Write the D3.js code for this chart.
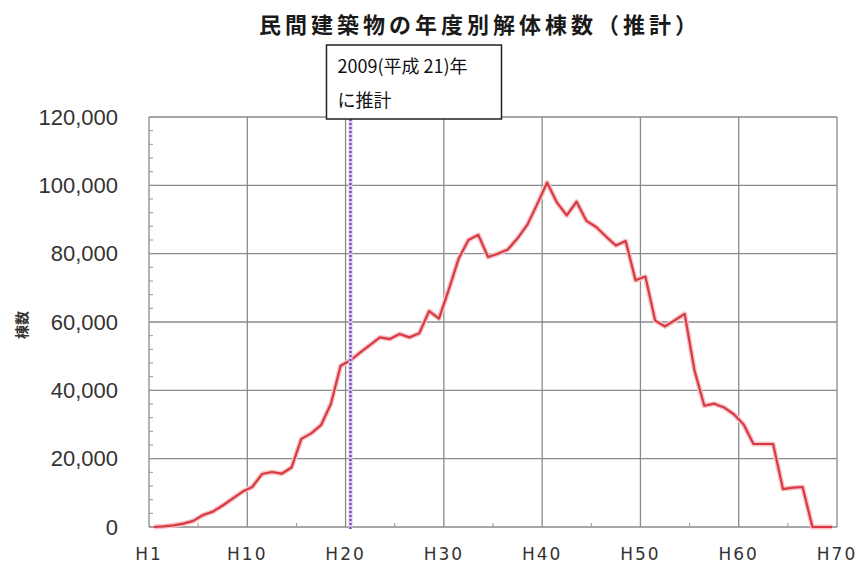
<!DOCTYPE html>
<html>
<head>
<meta charset="utf-8">
<script src="https://cdn.jsdelivr.net/npm/d3@7"></script>
<style>
	body { margin: 0; background: #fff; }
	svg { display: block; }
</style>
</head>
<body>
<svg class="chart"></svg>
<script>
//categories H1..H70 (fiscal years, Heisei)
const categories = d3.range(1, 71).map(function (n) {
	return 'H' + n
})

//estimated demolitions per year
const demolitions = [
	0, 200, 500, 1000, 1800, 3500, 4500, 6300, 8300, 10300,
	11700, 15500, 16100, 15600, 17400, 25800, 27400, 29800, 36000, 47200,
	48800, 51100, 53300, 55500, 55000, 56500, 55500, 56700, 63200, 61000,
	69500, 78500, 84000, 85500, 79000, 80000, 81200, 84500, 88500, 94500,
	100800, 95000, 91200, 95200, 89600, 87800, 85000, 82400, 83700, 72200,
	73300, 60400, 58700, 60500, 62400, 45800, 35500, 36100, 35000, 33000,
	30000, 24300, 24300, 24300, 11100, 11500, 11700, 0, 0, 0
]

const yTicks = [0, 20000, 40000, 60000, 80000, 100000, 120000]
const xTickLabels = ['H1', 'H10', 'H20', 'H30', 'H40', 'H50', 'H60', 'H70']
const markYear = 'H21' //2009
const noteLines = ['2009(平成 21)年', 'に推計']

const svgWidth = 861,
	svgHeight = 572
const margin = { top: 117, right: 24, bottom: 45, left: 149 }

const svg = d3.select('.chart').attr('width', svgWidth).attr('height', svgHeight)

const x = d3
	.scaleBand()
	.domain(categories)
	.range([margin.left, svgWidth - margin.right])
const bw = x.bandwidth()

const y = d3
	.scaleLinear()
	.domain([0, 120000])
	.range([svgHeight - margin.bottom, margin.top])

const plotLeft = margin.left,
	plotRight = svgWidth - margin.right,
	plotTop = margin.top,
	plotBottom = svgHeight - margin.bottom

//gridline positions: every 10 categories plus the right end
const gridX = xTickLabels.map(function (d, i) {
	return i * 10 < categories.length ? x(categories[i * 10]) : plotRight
})

//horizontal grid
svg
	.append('g')
	.selectAll('line')
	.data(yTicks)
	.enter()
	.append('line')
	.attr('x1', plotLeft)
	.attr('x2', plotRight)
	.attr('y1', function (d) { return y(d) })
	.attr('y2', function (d) { return y(d) })
	.attr('stroke', '#8a8a8a')
	.attr('stroke-width', 1.3)

//vertical grid
svg
	.append('g')
	.selectAll('line')
	.data(gridX)
	.enter()
	.append('line')
	.attr('x1', function (d) { return d })
	.attr('x2', function (d) { return d })
	.attr('y1', plotTop)
	.attr('y2', plotBottom)
	.attr('stroke', '#8a8a8a')
	.attr('stroke-width', 1.3)

//minor ticks on the left axis (every 4,000)
svg
	.append('g')
	.selectAll('line')
	.data(d3.range(0, 120001, 4000))
	.enter()
	.append('line')
	.attr('x1', plotLeft)
	.attr('x2', plotLeft + 4)
	.attr('y1', function (d) { return y(d) })
	.attr('y2', function (d) { return y(d) })
	.attr('stroke', '#999')
	.attr('stroke-width', 1)

//minor ticks on the bottom axis (every 5 categories)
svg
	.append('g')
	.selectAll('line')
	.data(d3.range(5, 70, 10))
	.enter()
	.append('line')
	.attr('x1', function (d) { return x(categories[d]) })
	.attr('x2', function (d) { return x(categories[d]) })
	.attr('y1', plotBottom)
	.attr('y2', plotBottom - 4)
	.attr('stroke', '#999')
	.attr('stroke-width', 1)

//y axis labels
const yAxis = d3
	.axisLeft(y)
	.tickValues(yTicks)
	.tickFormat(d3.format(','))
	.tickSize(0)
	.tickPadding(31)
const gy = svg.append('g').attr('transform', 'translate(' + plotLeft + ',0)').call(yAxis)
gy.select('.domain').remove()
gy.selectAll('text')
	.attr('fill', '#333')
	.style('font-family', '"Liberation Sans", Arial, sans-serif')
	.style('font-size', '22px')

//x axis labels
svg
	.append('g')
	.selectAll('text')
	.data(xTickLabels)
	.enter()
	.append('text')
	.attr('x', function (d, i) { return gridX[i] })
	.attr('y', plotBottom + 33)
	.attr('text-anchor', 'middle')
	.attr('fill', '#333')
	.style('font-family', '"DejaVu Sans", sans-serif')
	.style('font-size', '17px')
	.style('letter-spacing', '2px')
	.text(function (d) { return d })

//y title
svg
	.append('text')
	.attr('transform', 'translate(27,' + ((plotTop + plotBottom) / 2 + 3) + ') rotate(-90)')
	.attr('text-anchor', 'middle')
	.attr('fill', '#333')
	.style('font-family', '"Noto Sans CJK JP", sans-serif')
	.style('font-size', '14px')
	.style('font-weight', 'bold')
	.text('棟数')

//title
svg
	.append('text')
	.attr('x', 480)
	.attr('y', 33)
	.attr('text-anchor', 'middle')
	.attr('fill', '#1a1a1a')
	.style('font-family', '"Noto Sans CJK JP", sans-serif')
	.style('font-size', '22px')
	.style('font-weight', 'bold')
	.style('letter-spacing', '4px')
	.text('民間建築物の年度別解体棟数（推計）')

//estimate line
const lineGen = d3
	.line()
	.x(function (d, i) { return x(categories[i]) + bw / 2 })
	.y(function (d) { return y(d) })

svg
	.append('path')
	.datum(demolitions)
	.attr('d', lineGen)
	.attr('fill', 'none')
	.attr('stroke', '#f6c4c6')
	.attr('stroke-width', 5)
	.attr('stroke-linejoin', 'round')

svg
	.append('path')
	.datum(demolitions)
	.attr('d', lineGen)
	.attr('fill', 'none')
	.attr('stroke', '#d83a44')
	.attr('stroke-width', 2.2)
	.attr('stroke-linejoin', 'round')

//marker for the estimation year
const markX = x(markYear) + bw / 2
const boxTop = 45,
	boxH = 74
svg
	.append('line')
	.attr('x1', markX)
	.attr('x2', markX)
	.attr('y1', boxTop + boxH)
	.attr('y2', plotBottom + 2)
	.attr('stroke', '#d9c6ef')
	.attr('stroke-width', 4)
svg
	.append('line')
	.attr('x1', markX)
	.attr('x2', markX)
	.attr('y1', boxTop + boxH)
	.attr('y2', plotBottom + 2)
	.attr('stroke', '#6a3aa0')
	.attr('stroke-width', 2)
	.attr('stroke-dasharray', '2,2')

//note box
svg
	.append('rect')
	.attr('x', markX - 24)
	.attr('y', boxTop)
	.attr('width', 175)
	.attr('height', boxH)
	.attr('fill', '#fff')
	.attr('stroke', '#222')
	.attr('stroke-width', 1.5)

svg
	.append('g')
	.selectAll('text')
	.data(noteLines)
	.enter()
	.append('text')
	.attr('x', markX - 13)
	.attr('y', function (d, i) { return boxTop + 28 + i * 34 })
	.attr('fill', '#111')
	.style('font-family', '"Noto Sans CJK JP", sans-serif')
	.style('font-size', '18px')
	.text(function (d) { return d })
</script>
</body>
</html>
